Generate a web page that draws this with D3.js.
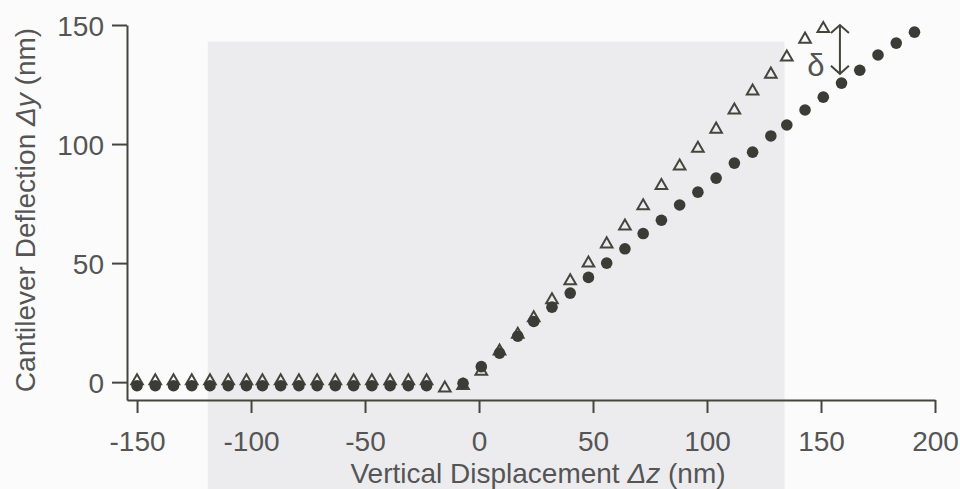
<!DOCTYPE html>
<html>
<head>
<meta charset="utf-8">
<title>Cantilever Deflection</title>
<script src="https://cdn.jsdelivr.net/npm/d3@7"></script>
<style>
  body { margin: 0; background: #fbfbfb; }
  text { font-family: "Liberation Sans", Arial, sans-serif; fill: #555; }
</style>
</head>
<body>
<div id="chart"></div>
<script>
// vertical displacement of each sample (nm)
var dz = [-150, -142, -134, -126, -118, -110, -102, -95, -87, -79, -71, -63, -55, -47, -39, -31,
          -23, -15, -7, 1, 9, 17, 24, 32, 40, 48, 56, 64, 72, 80, 88, 96, 104, 112, 120, 128,
          135, 143, 151, 159, 167, 175, 183, 191];

// open triangles (approach)
var approach = [0.5, 0.5, 0.5, 0.5, 0.5, 0.5, 0.5, 0.5, 0.5, 0.5, 0.5, 0.5, 0.5, 0.5, 0.5, 0.5,
                0.5, -2.5, -1.5, 4.5, 13, 20, 27, 34.5, 42.5, 50, 58, 65.5, 74, 82.5, 90.7, 98.2,
                106.2, 114.2, 122.2, 129.3, 136.5, 144, 148.5];

// filled circles (retract)
var retract = [-1.5, -1.5, -1.5, -1.5, -1.5, -1.5, -1.5, -1.5, -1.5, -1.5, -1.5, -1.5, -1.5, -1.5,
               -1.5, -1.5, -1.5, null, -0.5, 6.5, 12.2, 19.3, 25.5, 31.5, 37.4, 44, 50, 56, 62.4,
               68, 74.4, 79.8, 85.7, 92, 96.6, 103.4, 108, 114.3, 119.7, 125.6, 131, 137.4, 142.4, 147];

var xTicks = [-150, -100, -50, 0, 50, 100, 150, 200];
var yTicks = [0, 50, 100, 150];

// shaded band behind the plot (nm)
var shadeX = [-119, 134];
var shadeTop = 143;

// delta marker
var deltaX = 158.3;
var deltaY = [150, 129.5];

var W = 960, H = 489;
var ink = "#45453d";

var svg = d3.select("#chart").append("svg")
    .attr("width", W)
    .attr("height", H);

var x = d3.scaleLinear().domain([-154.4, 200]).range([127, 935]);
var y = d3.scaleLinear().domain([-7.5, 150]).range([400, 25]);

// background band
svg.append("rect")
    .attr("x", x(shadeX[0]))
    .attr("y", y(shadeTop))
    .attr("width", x(shadeX[1]) - x(shadeX[0]))
    .attr("height", H - y(shadeTop))
    .attr("fill", "#ececef");

// axes
var xAxis = svg.append("g")
    .attr("transform", "translate(0," + y(-7.5) + ")")
    .call(d3.axisBottom(x).tickValues(xTicks).tickSize(13).tickSizeOuter(0).tickPadding(18)
        .tickFormat(String));

var yAxis = svg.append("g")
    .attr("transform", "translate(" + x(-154.4) + ",0)")
    .call(d3.axisLeft(y).tickValues(yTicks).tickSize(15).tickSizeOuter(0).tickPadding(8)
        .tickFormat(String));

[xAxis, yAxis].forEach(function(g) {
    g.selectAll("path, line").attr("stroke", ink).attr("stroke-width", 2);
    g.selectAll("text").attr("font-size", 28).attr("fill", "#555")
        .attr("font-family", "Liberation Sans, Arial, sans-serif");
});
yAxis.selectAll("text").attr("dy", "0.36em");

// axis titles
var xt = svg.append("text")
    .attr("x", 538)
    .attr("y", 483)
    .attr("text-anchor", "middle")
    .attr("font-size", 28);
xt.append("tspan").text("Vertical Displacement ");
xt.append("tspan").attr("font-style", "italic").text("\u0394z");
xt.append("tspan").text(" (nm)");

var yt = svg.append("text")
    .attr("transform", "translate(35,210) rotate(-90)")
    .attr("text-anchor", "middle")
    .attr("font-size", 28);
yt.append("tspan").text("Cantilever Deflection ");
yt.append("tspan").attr("font-style", "italic").text("\u0394y");
yt.append("tspan").text(" (nm)");

// points
var tri = d3.symbol().type(d3.symbolTriangle).size(58);

svg.append("g").selectAll("path")
    .data(approach)
    .join("path")
    .attr("d", tri)
    .attr("transform", function(d, i) { return "translate(" + x(dz[i]) + "," + y(d) + ")"; })
    .attr("fill", "none")
    .attr("stroke", ink)
    .attr("stroke-width", 2);

svg.append("g").selectAll("circle")
    .data(retract.map(function(v, i) { return [dz[i], v]; }).filter(function(d) { return d[1] !== null; }))
    .join("circle")
    .attr("cx", function(d) { return x(d[0]); })
    .attr("cy", function(d) { return y(d[1]); })
    .attr("r", 5.8)
    .attr("fill", "#3c3c36");

// delta arrow
var ax = x(deltaX), a0 = y(deltaY[0]), a1 = y(deltaY[1]);
svg.append("path")
    .attr("d", "M" + ax + "," + a0 + "V" + a1 +
               "M" + (ax - 9) + "," + (a0 + 8) + "L" + ax + "," + a0 + "L" + (ax + 9) + "," + (a0 + 8) +
               "M" + (ax - 9) + "," + (a1 - 8) + "L" + ax + "," + a1 + "L" + (ax + 9) + "," + (a1 - 8))
    .attr("fill", "none")
    .attr("stroke", ink)
    .attr("stroke-width", 2);

svg.append("text")
    .attr("x", ax - 24)
    .attr("y", a1 + 2)
    .attr("text-anchor", "middle")
    .attr("font-family", "Liberation Serif, Times New Roman, serif")
    .attr("font-size", 31)
    .attr("fill", "#555")
    .text("\u03b4");
</script>
</body>
</html>
